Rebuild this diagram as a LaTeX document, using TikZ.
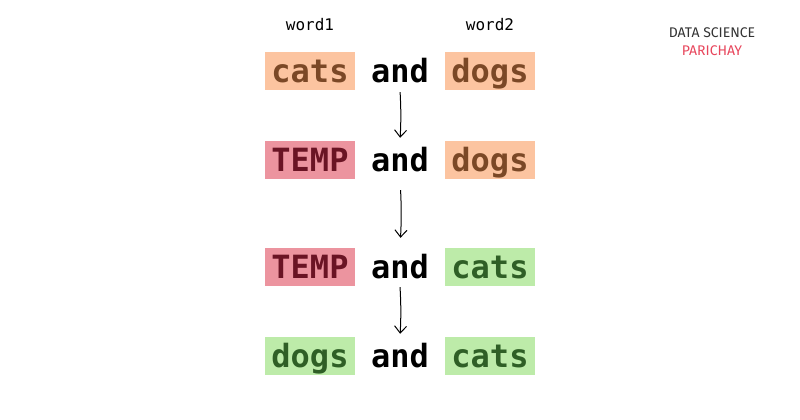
\documentclass[tikz,border=0pt]{standalone}
\usepackage{xcolor}
\usepackage{fontspec}
\setmonofont{DejaVu Sans Mono}
\newfontfamily\brandfont{Fira Sans}
\usepackage{tikz}
\usetikzlibrary{arrows.meta,positioning}

\definecolor{peach}{HTML}{FCC4A0}
\definecolor{peachtext}{HTML}{7B4826}
\definecolor{rose}{HTML}{EC949F}
\definecolor{rosetext}{HTML}{6A1424}
\definecolor{mint}{HTML}{BDEBA9}
\definecolor{minttext}{HTML}{2F5F26}
\definecolor{brandred}{HTML}{E8465C}

\begin{document}
\begin{tikzpicture}[x=1pt,y=-1pt,
  every matrix/.style={ampersand replacement=\&,column sep=0pt,row sep=51pt},
  word/.style={inner sep=0pt,minimum width=90pt,minimum height=38pt,
    text height=26pt,text depth=3pt,
    font=\ttfamily\bfseries\fontsize{32}{38}\selectfont},
  oldword/.style={word,fill=peach,text=peachtext},
  tempword/.style={word,fill=rose,text=rosetext},
  newword/.style={word,fill=mint,text=minttext},
  joiner/.style={word,text=black},
  varname/.style={inner sep=0pt,font=\ttfamily\fontsize{16}{19}\selectfont},
  brand/.style={font=\brandfont\fontsize{14}{16}\selectfont},
  to/.style={-{Straight Barb[length=7pt,width=12pt]},line width=1pt}]

    \fill[white] (0,0) rectangle (800,420);
    \useasboundingbox (0,0) rectangle (800,420);

    \matrix at (400,213.5) {
        \node[oldword](r1w1){cats};
            \& \node[joiner](r1and){and};
            \& \node[oldword](r1w2){dogs}; \\
        \node[tempword](r2w1){TEMP};
            \& \node[joiner](r2and){and};
            \& \node[oldword](r2w2){dogs}; \\[18pt]
        \node[tempword](r3w1){TEMP};
            \& \node[joiner](r3and){and};
            \& \node[newword](r3w2){cats}; \\
        \node[newword](r4w1){dogs};
            \& \node[joiner](r4and){and};
            \& \node[newword](r4w2){cats}; \\
    };

    \node[varname](lbl1)[above=21pt of r1w1]{word1};
    \node[varname](lbl2)[above=21pt of r1w2]{word2};

    \draw[to,shorten <=2pt,shorten >=3pt](r1and.south) to[bend left=3] (r2and.north);
    \draw[to,shorten <=11pt,shorten >=10pt](r2and.south) to[bend left=3] (r3and.north);
    \draw[to,shorten <=1pt,shorten >=3pt](r3and.south) to[bend left=3] (r4and.north);

    \node[brand,text=black!80](brand1) at (712,33){DATA SCIENCE};
    \node[brand,text=brandred](brand2)[below=1pt of brand1]{PARICHAY};
\end{tikzpicture}
\end{document}
